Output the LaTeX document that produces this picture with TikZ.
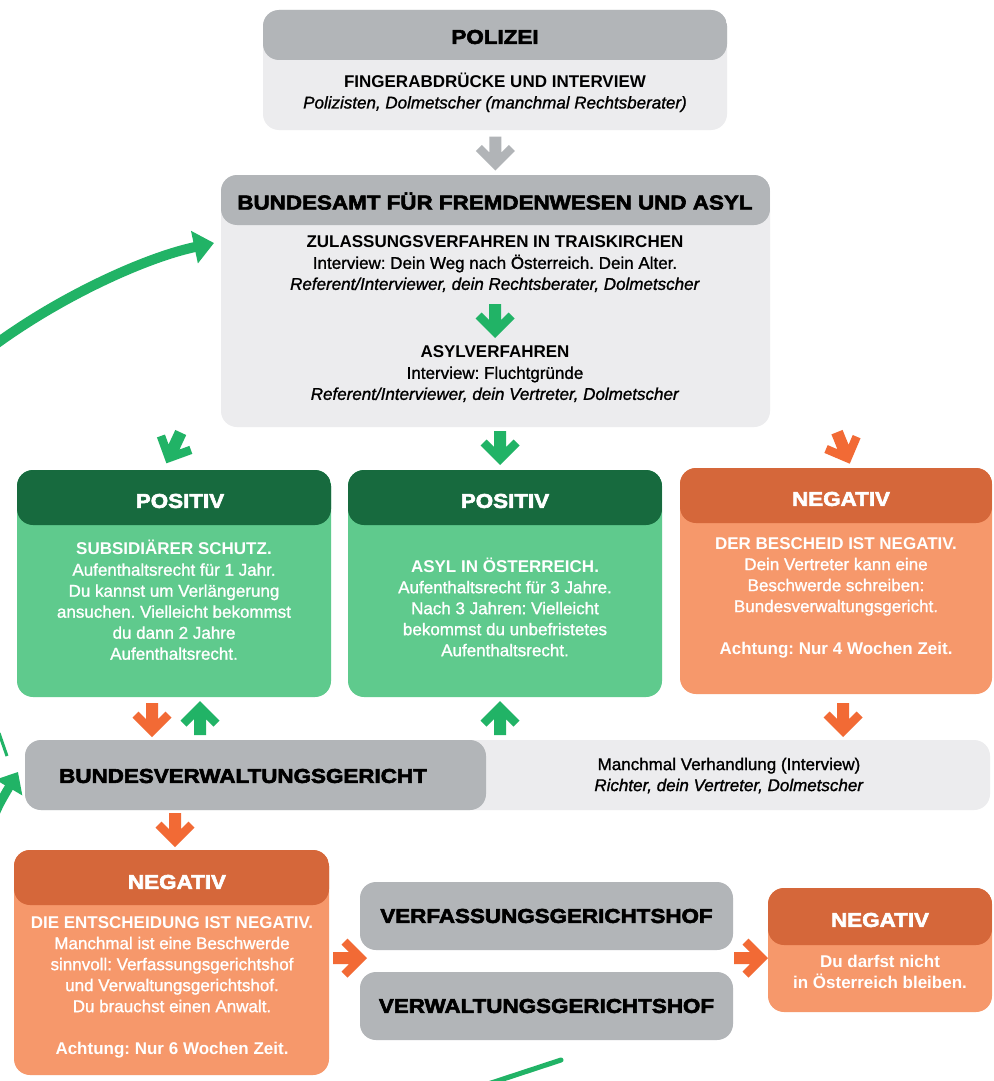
\documentclass[tikz,border=0pt]{standalone}
\usepackage{fontspec}
\setmainfont{Liberation Sans}
\newfontfamily\hfont[BoldFeatures={FakeBold=3,FakeStretch=1.12}]{Liberation Sans}
\newfontfamily\mfont[FakeBold=1.2]{Liberation Sans}
\usetikzlibrary{calc,arrows.meta}
\frenchspacing
\definecolor{hgray}{HTML}{B2B5B8}
\definecolor{lgray}{HTML}{ECECEE}
\definecolor{dgreen}{HTML}{176A3E}
\definecolor{lgreen}{HTML}{5FCA8D}
\definecolor{agreen}{HTML}{21B366}
\definecolor{dorange}{HTML}{D5673A}
\definecolor{lorange}{HTML}{F6986B}
\definecolor{aorange}{HTML}{F26A35}
\definecolor{agray}{HTML}{B1B4B7}
\newcommand\bl[1]{{\normalfont\bfseries #1}}
\tikzset{
  bx/.style={rectangle, rounded corners=16pt, fill=#1, inner sep=0pt, draw=none},
  hdr/.style 2 args={path picture={\fill[#1] ([yshift=1pt]path picture bounding box.north west) rectangle ([yshift=-#2pt]path picture bounding box.north east);}},
  hd/.style={font=\hfont\bfseries\fontsize{20}{24}\selectfont, inner sep=0pt},
  bd/.style={font=\mfont\frenchspacing\fontsize{17}{21}\selectfont, align=center, inner sep=0pt},
  barrow/.pic={\fill[#1] (-6,-16) -- (6,-16) -- (6,0) -- (13.5,-7.5) -- (19.5,-1.5) -- (0,18) -- (-19.5,-1.5) -- (-13.5,-7.5) -- (-6,0) -- cycle;},
  cyc/.style={draw=agreen, line width=10pt}
}
\begin{document}
\begin{tikzpicture}[x=1pt,y=-1pt]
\fill[white] (0,0) rectangle (993,1081);
\useasboundingbox (0,0) rectangle (993,1081);

% boxes
\node[bx=lgray, hdr={hgray}{50}, minimum width=464pt, minimum height=120pt] (pol) at (495,70) {};
\node[bx=lgray, hdr={hgray}{50}, minimum width=549pt, minimum height=252pt] (bfa) at (495.5,301) {};
\node[bx=lgreen, hdr={dgreen}{55}, minimum width=314pt, minimum height=227pt] (posl) at (174,583.5) {};
\node[bx=lgreen, hdr={dgreen}{55}, minimum width=314pt, minimum height=227pt] (posm) at (505,583.5) {};
\node[bx=lorange, hdr={dorange}{55}, minimum width=312pt, minimum height=226pt] (negr) at (836,581) {};
\node[bx=lgray, minimum width=965pt, minimum height=70pt,
  path picture={\fill[hgray] (path picture bounding box.south west) rectangle ([xshift=461pt]path picture bounding box.north west);}] (bvg) at (507.5,775) {};
\node[bx=lorange, hdr={dorange}{55}, minimum width=315pt, minimum height=225pt] (negl) at (171.5,962.5) {};
\node[bx=hgray, minimum width=373pt, minimum height=68pt] (vfgh) at (546.5,916) {};
\node[bx=hgray, minimum width=373pt, minimum height=68pt] (vwgh) at (546.5,1006) {};
\node[bx=lorange, hdr={dorange}{57}, minimum width=224pt, minimum height=124pt] (negb) at (880,950) {};

% texts
\node[hd] (polh) at (495,37) {POLIZEI};
\node[bd] (polb) at (495,92.5) {\bl{FINGERABDRÜCKE UND INTERVIEW}\\\textit{Polizisten, Dolmetscher (manchmal Rechtsberater)}};
\node[hd] (bfah) at (495,201) {BUNDESAMT FÜR FREMDENWESEN UND ASYL};
\node[bd] (bfa1) at (495,264) {\bl{ZULASSUNGSVERFAHREN IN TRAISKIRCHEN}\\Interview: Dein Weg nach Österreich. Dein Alter.\\\textit{Referent/Interviewer, dein Rechtsberater, Dolmetscher}};
\node[bd] (bfa2) at (495,374) {\bl{ASYLVERFAHREN}\\Interview: Fluchtgründe\\\textit{Referent/Interviewer, dein Vertreter, Dolmetscher}};
\node[hd, white] (poslh) at (180,501) {POSITIV};
\node[bd, white] (poslb) at (174,600) {\bl{SUBSIDIÄRER SCHUTZ.}\\Aufenthaltsrecht für 1 Jahr.\\Du kannst um Verlängerung\\ansuchen. Vielleicht bekommst\\du dann 2 Jahre\\Aufenthaltsrecht.};
\node[hd, white] (posmh) at (505,501) {POSITIV};
\node[bd, white] (posmb) at (505,607) {\bl{ASYL IN ÖSTERREICH.}\\Aufenthaltsrecht für 3 Jahre.\\Nach 3 Jahren: Vielleicht\\bekommst du unbefristetes\\Aufenthaltsrecht.};
\node[hd, white] (negrh) at (841,499) {NEGATIV};
\node[bd, white] (negrb) at (836,597.5) {\bl{DER BESCHEID IST NEGATIV.}\\Dein Vertreter kann eine\\Beschwerde schreiben:\\Bundesverwaltungsgericht.\\~\\\bl{Achtung: Nur 4 Wochen Zeit.}};
\node[hd] (bvgh) at (243,776) {BUNDESVERWALTUNGSGERICHT};
\node[bd] (bvgb) at (729,775.5) {Manchmal Verhandlung (Interview)\\\textit{Richter, dein Vertreter, Dolmetscher}};
\node[hd, white] (neglh) at (177,882) {NEGATIV};
\node[bd, white] (neglb) at (172,987) {\bl{DIE ENTSCHEIDUNG IST NEGATIV.}\\Manchmal ist eine Beschwerde\\sinnvoll: Verfassungsgerichtshof\\und Verwaltungsgerichtshof.\\Du brauchst einen Anwalt.\\~\\\bl{Achtung: Nur 6 Wochen Zeit.}};
\node[hd] (vfght) at (vfgh) {VERFASSUNGSGERICHTSHOF};
\node[hd] (vwght) at (vwgh) {VERWALTUNGSGERICHTSHOF};
\node[hd, white] (negbh) at (880,920) {NEGATIV};
\node[bd, white] (negbb) at (880,972) {\bl{Du darfst nicht}\\\bl{in Österreich bleiben.}};

% block arrows
\pic at ($(pol.south)!0.5!(bfa.north)$) {barrow=agray};
\pic at (495,320) {barrow=agreen};
\pic[rotate=-25] at (174,447) {barrow=agreen};
\pic at (500,447) {barrow=agreen};
\pic[rotate=22] at (843,447) {barrow=aorange};
\pic at (152,719) {barrow=aorange};
\pic[rotate=180] at (200,719) {barrow=agreen};
\pic[rotate=180] at (500,719) {barrow=agreen};
\pic at (843,719) {barrow=aorange};
\pic at (175,829) {barrow=aorange};
\pic[rotate=90] at (349,958) {barrow=aorange};
\pic[rotate=90] at (750,958) {barrow=aorange};

% cycle arrows (fragments)
\coordinate (c1) at (-20,356);
\coordinate (c2) at (214,243);
\draw[cyc, -{Triangle[length=20pt,width=32pt]}] (c1) .. controls (50,301) and (143,258) .. (c2);
\coordinate (d1) at (-14,836);
\coordinate (d2) at (18,772);
\draw[cyc, line width=9pt, -{Triangle[length=18pt,width=30pt]}] (d1) .. controls (-2,806) .. (d2);
\coordinate (f1) at (-1,733);
\coordinate (f2) at (7,756);
\draw[agreen, line width=3pt] (f1) -- (f2);
\coordinate (e1) at (485,1085);
\coordinate (e2) at (561,1060);
\draw[agreen, line width=5pt, line cap=round] (e1) -- (e2);
\end{tikzpicture}
\end{document}
